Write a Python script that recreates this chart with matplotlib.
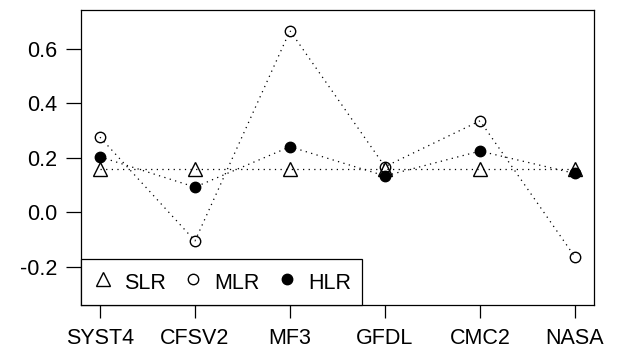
import matplotlib
matplotlib.use("Agg")
import matplotlib.pyplot as plt
from matplotlib.lines import Line2D

models = ["SYST4", "CFSV2", "MF3", "GFDL", "CMC2", "NASA"]
slr = [0.157, 0.157, 0.157, 0.157, 0.157, 0.157]
mlr = [0.275, -0.105, 0.665, 0.167, 0.335, -0.164]
hlr = [0.203, 0.092, 0.240, 0.133, 0.224, 0.142]

plt.rcParams["font.family"] = ["Liberation Sans", "DejaVu Sans"]
plt.rcParams["font.size"] = 15.5

fig = plt.figure(figsize=(6.19, 3.5), dpi=100)
ax = fig.add_axes([81 / 619, 45 / 350, 513 / 619, 294.7 / 350])

x = list(range(1, len(models) + 1))
dots = (0, (1, 3.5))
ax.plot(x, slr, color="black", linestyle=dots, linewidth=0.9, marker="^",
        markersize=10.5, markerfacecolor="none", markeredgewidth=1.0)
ax.plot(x, mlr, color="black", linestyle=dots, linewidth=0.9, marker="o",
        markersize=7.5, markerfacecolor="none", markeredgewidth=1.0)
ax.plot(x, hlr, color="black", linestyle=dots, linewidth=0.9, marker="o",
        markersize=7.5, markerfacecolor="black", markeredgewidth=1.0)

ax.set_xlim(0.8, 6.2)
ax.set_ylim(-0.34, 0.74)
ax.set_xticks(x)
ax.set_xticklabels(models)
ax.set_yticks([-0.2, 0.0, 0.2, 0.4, 0.6])
ax.set_yticklabels(["-0.2", "0.0", "0.2", "0.4", "0.6"])
ax.tick_params(axis="y", length=11, width=0.9, pad=6)
ax.tick_params(axis="x", length=9.5, width=0.9, pad=7)
for s in ax.spines.values():
    s.set_linewidth(0.9)

handles = [
    Line2D([], [], linestyle="none", marker="^", markersize=10.5,
           markerfacecolor="none", markeredgecolor="black"),
    Line2D([], [], linestyle="none", marker="o", markersize=7.5,
           markerfacecolor="none", markeredgecolor="black"),
    Line2D([], [], linestyle="none", marker="o", markersize=7.5,
           markerfacecolor="black", markeredgecolor="black"),
]
leg = ax.legend(handles, ["SLR", "MLR", "HLR"], loc="lower left", ncol=3,
                borderaxespad=0, fancybox=False, framealpha=1,
                edgecolor="black", handlelength=1.0, handleheight=1.4,
                handletextpad=0.5, columnspacing=0.75, borderpad=0.5)
leg.get_frame().set_linewidth(0.9)

fig.savefig("out.png", dpi=100)
